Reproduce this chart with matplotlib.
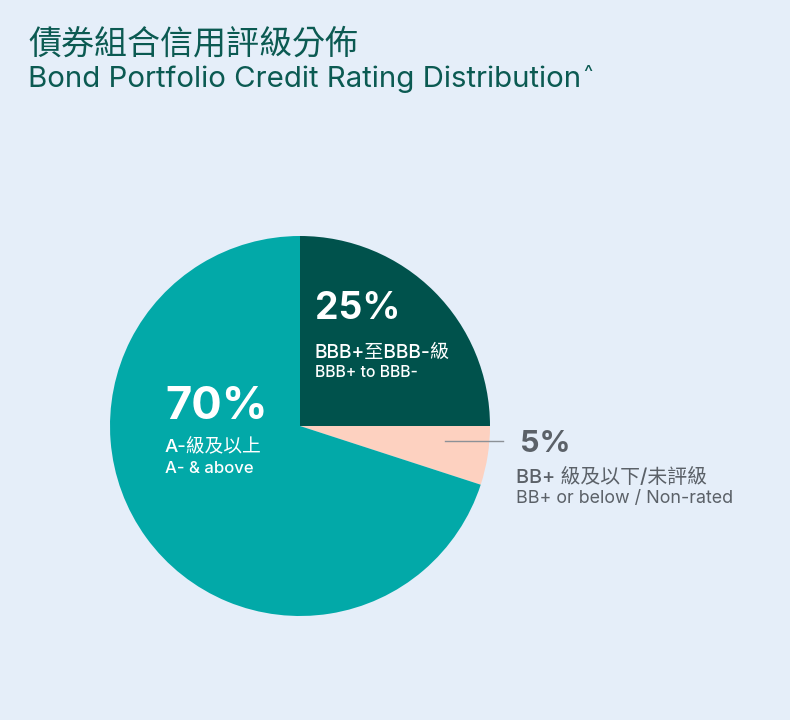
import matplotlib
matplotlib.use("Agg")
import matplotlib.pyplot as plt

categories_zh = ["BBB+至BBB-級", "BB+ 級及以下/未評級", "A-級及以上"]
categories_en = ["BBB+ to BBB-", "BB+ or below / Non-rated", "A- & above"]
values = [25, 5, 70]
pct_labels = ["25%", "5%", "70%"]
colors = ["#00524C", "#FDD1C0", "#02A9A8"]

BG = "#E5EEF9"
TITLE_C = "#0B5A52"
GRAY = "#5B6168"
FAM = ["Inter", "Noto Sans CJK TC", "DejaVu Sans"]
plt.rcParams["font.family"] = FAM

W, H = 790, 720
fig = plt.figure(figsize=(7.9, 7.2), dpi=100, facecolor=BG)

def ft(x, y, s, size, color, weight="normal", family=FAM):
    return fig.text(x/W, 1-y/H, s, fontsize=size, color=color, weight=weight,
                    ha="left", va="baseline", family=family)

ft(28, 54, "債券組合信用評級分佈", 23.8, TITLE_C, "medium", ["Noto Sans CJK TC"])
t = ft(28, 87, "Bond Portfolio Credit Rating Distribution", 21.2, TITLE_C)
fig.canvas.draw()
bb = t.get_window_extent(renderer=fig.canvas.get_renderer())
fig.text(bb.x1/W + 2/W, 1-79/H, "^", fontsize=14, color=TITLE_C, ha="left", va="baseline")

ax = fig.add_axes([110/W, 1-616/H, 380/W, 380/H])
ax.set_facecolor(BG)
ax.pie(values, colors=colors, startangle=90, counterclock=False,
       wedgeprops=dict(linewidth=0))
ax.set_aspect("equal")
ax.set_xlim(-1, 1)
ax.set_ylim(-1, 1)
ax.axis("off")

# 25% slice
ft(315, 319, pct_labels[0], 27, "white", "bold")
ft(315, 358, categories_zh[0], 13.8, "white", "medium")
ft(315, 377, categories_en[0], 11.4, "white", "medium")

# 70% slice
ft(165, 419, pct_labels[2], 32.5, "white", "bold")
ft(165, 452, categories_zh[2], 13.5, "white", "medium")
ft(165, 473, categories_en[2], 12, "white", "medium")

# 5% slice
fig.add_artist(plt.Line2D([445/W, 503/W], [1-441/H, 1-441/H], color="#8C9197", lw=1))
ft(520, 452, pct_labels[1], 22, GRAY, "bold")
ft(516, 483, categories_zh[1], 14.3, GRAY, "medium")
ft(516, 503, categories_en[1], 12.9, GRAY)

fig.savefig("out.png", dpi=100, facecolor=BG)
